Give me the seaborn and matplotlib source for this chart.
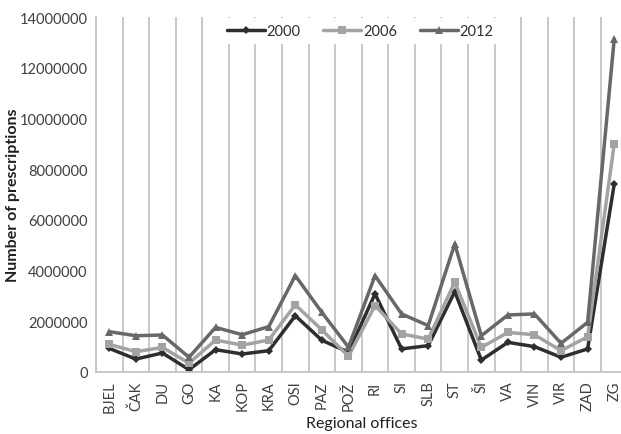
import pandas as pd
import matplotlib
matplotlib.use("Agg")
import matplotlib.pyplot as plt
import seaborn as sns

# data
offices = ["BJEL", "ČAK", "DU", "GO", "KA", "KOP", "KRA", "OSI", "PAZ", "POŽ",
           "RI", "SI", "SLB", "ST", "ŠI", "VA", "VIN", "VIR", "ZAD", "ZG"]
y2000 = [930000, 510000, 750000, 90000, 880000, 710000, 840000, 2220000, 1250000, 780000,
         3080000, 910000, 1040000, 3170000, 470000, 1170000, 1000000, 580000, 910000, 7410000]
y2006 = [1090000, 800000, 970000, 350000, 1260000, 1060000, 1260000, 2650000, 1660000, 620000,
         2620000, 1500000, 1300000, 3540000, 970000, 1560000, 1470000, 840000, 1390000, 8990000]
y2012 = [1590000, 1430000, 1460000, 580000, 1760000, 1470000, 1790000, 3800000, 2350000, 980000,
         3800000, 2290000, 1830000, 5050000, 1430000, 2250000, 2290000, 1130000, 1960000, 13130000]
years = ["2000", "2006", "2012"]

sns.set_style("white")
plt.rcParams['font.family'] = ['Lato', 'DejaVu Sans']

rows = []
for yr, vals in zip(years, [y2000, y2006, y2012]):
    for off, v in zip(offices, vals):
        rows.append({"office": off, "year": yr, "value": v})
df = pd.DataFrame(rows)

colors = {"2000": "#2e2e2e", "2006": "#a3a3a3", "2012": "#686868"}
markers = {"2000": "D", "2006": "s", "2012": "^"}
msizes = {"2000": 4, "2006": 6, "2012": 6}

fig = plt.figure(figsize=(6.21, 4.35), dpi=100)
ax = fig.add_axes([96 / 621, 62 / 435, 531.5 / 621, 355 / 435])

for yr in years:
    sub = df[df["year"] == yr]
    sns.lineplot(data=sub, x="office", y="value", ax=ax, color=colors[yr],
                 marker=markers[yr], markersize=msizes[yr], markeredgewidth=0,
                 linewidth=2.5, label=yr, sort=False)

ax.set_xlim(-0.5, len(offices) - 0.5)
ax.set_ylim(0, 14000000)
ax.set_yticks(range(0, 14000001, 2000000))
ax.set_yticklabels([str(v) for v in range(0, 14000001, 2000000)])
ax.set_xticks(range(len(offices)))
ax.set_xticklabels(offices, rotation=90)
ax.set_xticks([i - 0.5 for i in range(len(offices) + 1)], minor=True)
ax.tick_params(axis="x", which="major", length=0, pad=6, labelsize=10.5, colors="#404040")
ax.tick_params(axis="x", which="minor", length=5, color="#c0c0c0", width=1.2)
ax.tick_params(axis="y", length=0, pad=6, labelsize=10.5, colors="#404040")
ax.grid(axis="x", which="minor", color="#c4c4c4", linewidth=1.3)
ax.grid(axis="x", which="major", visible=False)
ax.set_axisbelow(True)

for s in ["top", "right"]:
    ax.spines[s].set_visible(False)
for s in ["left", "bottom"]:
    ax.spines[s].set_color("#c4c4c4")
    ax.spines[s].set_linewidth(1.3)

ax.set_xlabel("Regional offices", fontsize=11.5, color="#202020", labelpad=3)
ax.set_ylabel("Number of prescriptions", fontsize=11.5, color="#202020",
              fontweight="bold")
ax.yaxis.set_label_coords(-0.143, 0.5)

leg = ax.legend(loc="upper center", bbox_to_anchor=(0.497, 1.0), ncol=3, frameon=True,
                fontsize=10.5, handlelength=2.6, handletextpad=0.1, columnspacing=1.6,
                borderaxespad=0.1)
leg.get_frame().set_facecolor("white")
leg.get_frame().set_edgecolor("none")
leg.get_frame().set_alpha(1)
for t in leg.get_texts():
    t.set_color("#303030")

fig.savefig("out.png", dpi=100)
